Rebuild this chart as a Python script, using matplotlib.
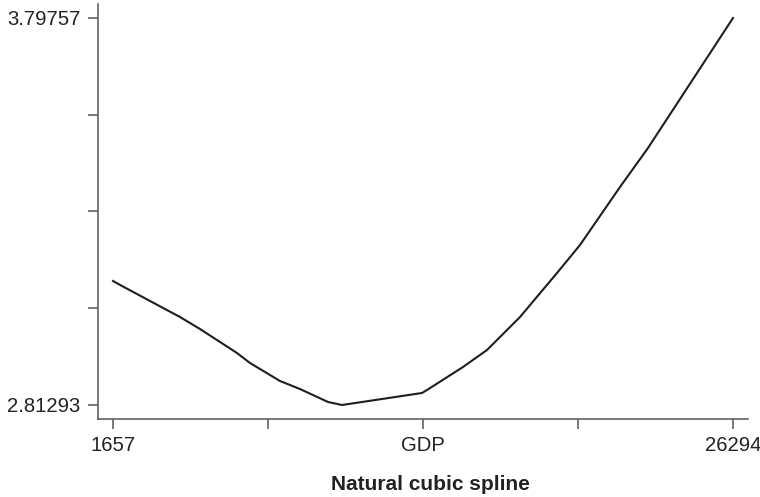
import numpy as np
import matplotlib.pyplot as plt

plt.rcParams['font.family'] = ['Liberation Sans', 'DejaVu Sans']

# values
gdp = [1657, 2015, 4319, 5114, 6584, 7101, 8293, 9088, 10201, 10757,
       13936, 14134, 15565, 16519, 17830, 19300, 20214, 21804, 22916, 26294]
fit = [3.1284, 3.1157, 3.0368, 3.0063, 2.9452, 2.9198, 2.8740, 2.8536, 2.8206, 2.81293,
       2.8435, 2.8511, 2.9096, 2.9529, 3.0368, 3.1488, 3.2200, 3.3676, 3.4668, 3.79757]

x_min, x_max = 1657, 26294
y_min, y_max = 2.81293, 3.79757
x_tick_labels = ['1657', '', 'GDP', '', '26294']
y_tick_labels = ['2.81293', '', '', '', '3.79757']

fig = plt.figure(figsize=(7.6, 4.97), dpi=100)
ax = fig.add_axes([98 / 760, 78 / 497, 650 / 760, 415 / 497])

ax.plot(gdp, fit, color='#1e1e1e', lw=1.5, solid_joinstyle='miter')

xs = (x_max - x_min) / 620
ys = (y_max - y_min) / 387
ax.set_xlim(x_min - 15 * xs, x_max + 15 * xs)
ax.set_ylim(y_min - 14 * ys, y_max + 14 * ys)

ax.set_xticks(np.linspace(x_min, x_max, 5))
ax.set_xticklabels(x_tick_labels)
ax.set_yticks(np.linspace(y_min, y_max, 5))
ax.set_yticklabels(y_tick_labels)

for side in ['top', 'right']:
    ax.spines[side].set_visible(False)
for side in ['left', 'bottom']:
    ax.spines[side].set_color('#555555')
    ax.spines[side].set_linewidth(1.1)
ax.tick_params(length=7.5, width=1.1, color='#555555', pad=5,
               labelsize=14.6, labelcolor='#222222')

fig.text(430 / 760, 12 / 497, 'Natural cubic spline', ha='center', va='center',
         fontsize=15, fontweight='bold', color='#222222')

fig.savefig('out.png', dpi=100)
